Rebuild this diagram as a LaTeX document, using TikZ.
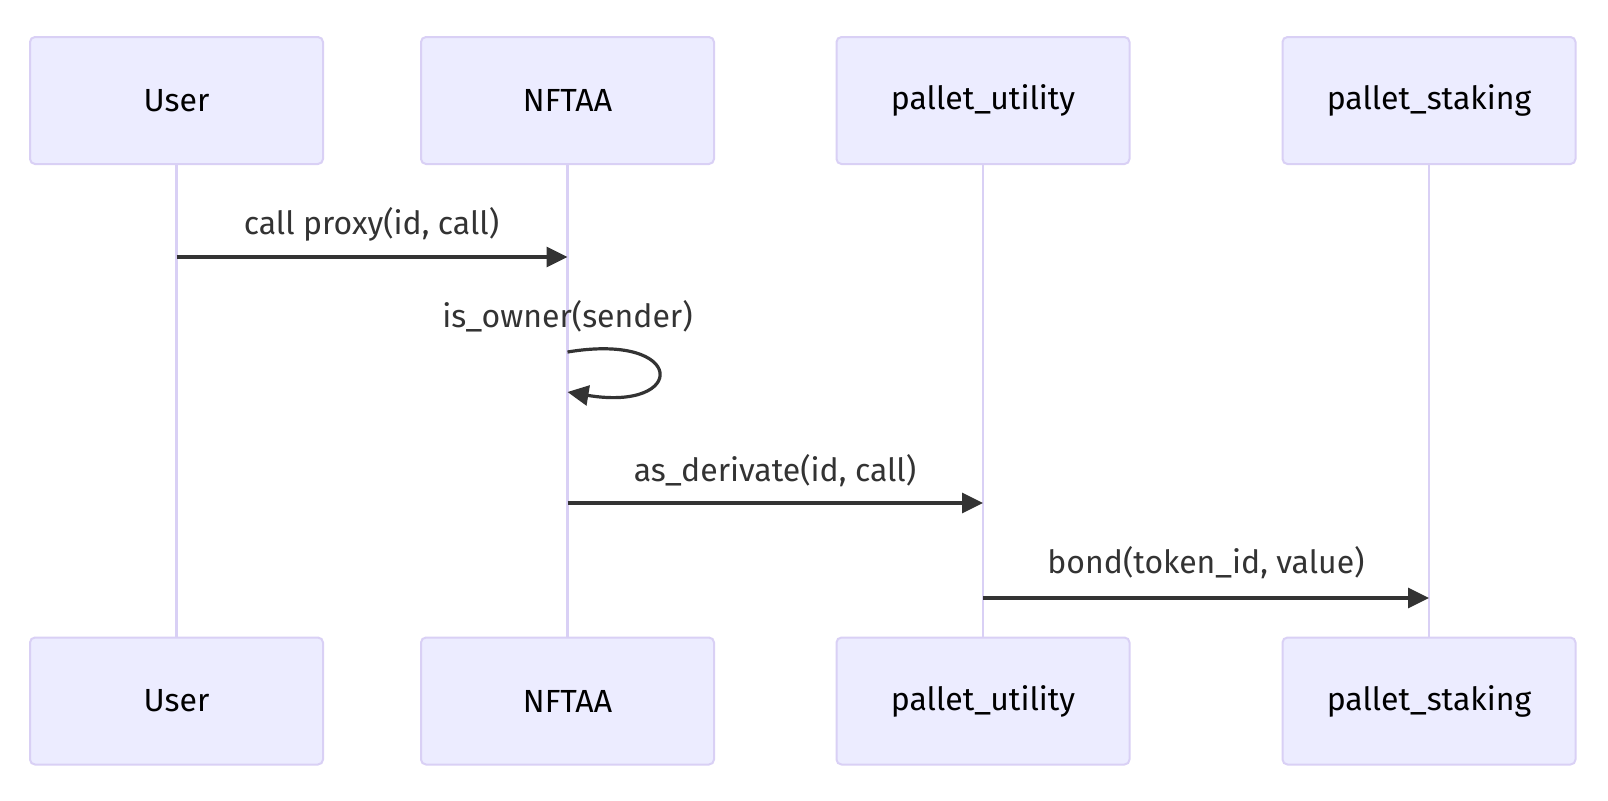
\documentclass[tikz,border=0pt]{standalone}
\usepackage{fontspec}
\setmainfont{Fira Sans}
\usetikzlibrary{arrows.meta,calc}
\definecolor{actfill}{HTML}{ECECFF}
\definecolor{actdraw}{HTML}{D9D0F5}
\definecolor{lifecol}{HTML}{D9D0F5}
\definecolor{msgcol}{HTML}{333333}
\tikzset{
  actor/.style={draw=actdraw, fill=actfill, line width=1pt, rounded corners=2.5pt,
    minimum width=146.5pt, minimum height=63.5pt, inner sep=0pt,
    font=\fontsize{16pt}{19pt}\selectfont, text=black},
  lifeline/.style={draw=lifecol, line width=1.2pt},
  msg/.style={draw=msgcol, line width=1.6pt, -{Triangle[length=10.5pt,width=10pt]}},
  msglabel/.style={font=\fontsize{16pt}{19pt}\selectfont, text=msgcol, inner sep=0pt}
}
\begin{document}
\begin{tikzpicture}[x=0.5pt,y=-0.5pt]
\useasboundingbox (0,0) rectangle (1608,800);
\fill[white] (0,0) rectangle (1608,800);
% top actors
\node[actor] (ut) at (176.5,100.5) {User};
\node[actor] (nt) at (567.5,100.5) {NFTAA};
\node[actor] (pt) at (983,100.5) {pallet\_utility};
\node[actor] (st) at (1429,100.5) {pallet\_staking};
% bottom actors
\node[actor] (ub) at (176.5,701) {User};
\node[actor] (nb) at (567.5,701) {NFTAA};
\node[actor] (pb) at (983,701) {pallet\_utility};
\node[actor] (sb) at (1429,701) {pallet\_staking};
% lifelines
\draw[lifeline] (ut.south) -- (ub.north);
\draw[lifeline] (nt.south) -- (nb.north);
\draw[lifeline] (pt.south) -- (pb.north);
\draw[lifeline] (st.south) -- (sb.north);
% message anchor points
\coordinate (m1a) at (176.5,257);
\coordinate (m1b) at (567.5,257);
\coordinate (m2a) at (567.5,352);
\coordinate (m2b) at (567.5,392);
\coordinate (m3a) at (567.5,503);
\coordinate (m3b) at (983,503);
\coordinate (m4a) at (983,598);
\coordinate (m4b) at (1429,598);
% messages
\draw[msg] (m1a) -- (m1b);
\node[msglabel] (l1) at (371.5,224) {call proxy(id, call)};
\draw[msg] (m2a) .. controls ($(m2a)+(120,-20)$) and ($(m2b)+(120,20)$) .. (m2b);
\node[msglabel] (l2) at (567.5,316) {is\_owner(sender)};
\draw[msg] (m3a) -- (m3b);
\node[msglabel] (l3) at (775,471) {as\_derivate(id, call)};
\draw[msg] (m4a) -- (m4b);
\node[msglabel] (l4) at (1206,563) {bond(token\_id, value)};
\end{tikzpicture}
\end{document}
